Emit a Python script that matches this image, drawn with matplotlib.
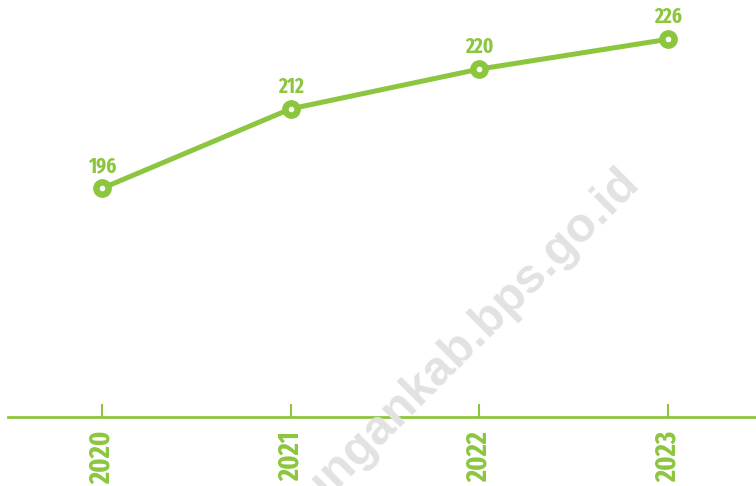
import matplotlib.pyplot as plt
from matplotlib import font_manager as fm

tahun = ['2020', '2021', '2022', '2023']
nilai = [196, 212, 220, 226]

hijau = '#8cc63f'

# cari font condensed yang ada
ada = set(f.name for f in fm.fontManager.ttflist)
calon = ['Fira Sans Extra Condensed', 'Oswald', 'Barlow Condensed',
         'PT Sans Narrow', 'Roboto Condensed', 'Liberation Sans Narrow']
pakai = [c for c in calon if c in ada][:1] + ['DejaVu Sans']
plt.rcParams['font.family'] = pakai

fig = plt.figure(figsize=(7.56, 4.86), dpi=100)
ax = fig.add_axes([8 / 756, 1 - 417 / 486, 1 - 8 / 756, 417 / 486])

x = list(range(len(tahun)))

# watermark
fig.text(641 / 756, 1 - 184 / 486, 'bulungankab.bps.go.id', rotation=45,
         rotation_mode='anchor', ha='right', va='baseline', fontsize=35,
         fontweight='bold', color='#e2e2e2', family='Liberation Sans', zorder=0)

ax.plot(x, nilai, color=hijau, lw=3.6, marker='o', ms=12.5, mfc=hijau,
        mec=hijau, zorder=3, solid_capstyle='round')
ax.plot(x, nilai, ls='none', marker='o', ms=3, mfc='white', mec='white', zorder=4)

for i, v in zip(x, nilai):
    ax.annotate(str(v), (i, v), xytext=(0, 11.5), textcoords='offset points',
                ha='center', va='baseline', fontsize=15, fontweight='bold',
                color=hijau)

ax.set_xlim(-0.498, 3.466)
ax.set_ylim(150, 233.9)
ax.patch.set_alpha(0)

for s in ['top', 'right', 'left']:
    ax.spines[s].set_visible(False)
ax.spines['bottom'].set_color(hijau)
ax.spines['bottom'].set_linewidth(2)

ax.set_yticks([])
ax.set_xticks(x)
ax.set_xticklabels(tahun, rotation=90, fontsize=20.5, fontweight='bold',
                   color=hijau, va='top')
ax.tick_params(axis='x', direction='in', length=9.5, width=1.5, color=hijau, pad=10)

fig.savefig('out.png', dpi=100)
